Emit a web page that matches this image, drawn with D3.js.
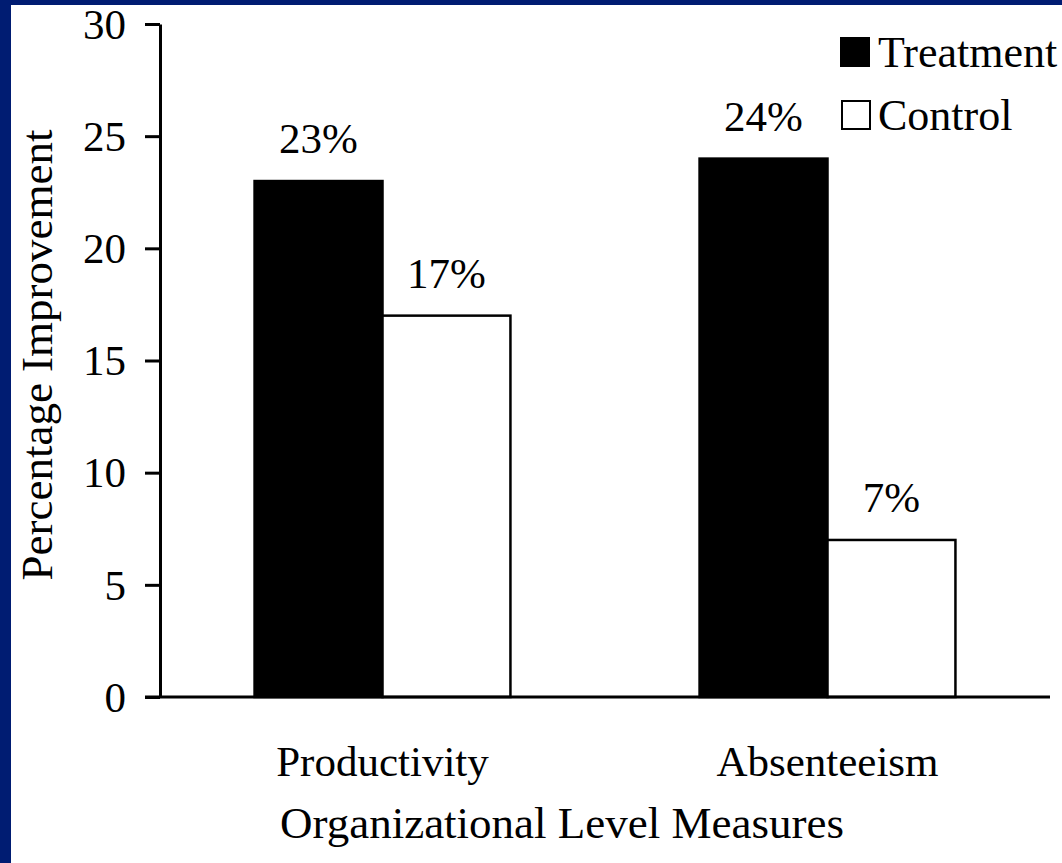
<!DOCTYPE html>
<html>
<head>
<meta charset="utf-8">
<script src="https://cdn.jsdelivr.net/npm/d3@7"></script>
<style>
  html, body { margin: 0; padding: 0; background: #ffffff; }
  svg { display: block; }
  text { font-family: "Liberation Serif", "Times New Roman", serif; fill: #000; }
</style>
</head>
<body>
<svg id="chart" width="1062" height="863"></svg>
<script>
// Chart data
const categories = ["Productivity", "Absenteeism"];
const seriesNames = ["Treatment", "Control"];
const treatment = [23, 24];
const control = [17, 7];
const yTicks = [0, 5, 10, 15, 20, 25, 30];
const yTitle = "Percentage Improvement";
const xTitle = "Organizational Level Measures";

const seriesFill = { Treatment: "#000000", Control: "#ffffff" };

const W = 1062, H = 863;
const plot = { left: 160, right: 1050, top: 24, bottom: 697 };

const svg = d3.select("#chart");

// Navy frame along the top and left edges
svg.append("rect").attr("x", 0).attr("y", 0).attr("width", W).attr("height", 5).attr("fill", "#001c72");
svg.append("rect").attr("x", 0).attr("y", 0).attr("width", 11).attr("height", H).attr("fill", "#001c72");

const rows = categories.map((c, i) => ({
  category: c,
  values: [
    { series: "Treatment", value: treatment[i] },
    { series: "Control", value: control[i] }
  ]
}));

const y = d3.scaleLinear().domain([0, 30]).range([plot.bottom, plot.top]);

const x0 = d3.scaleBand()
  .domain(categories)
  .range([plot.left, plot.right])
  .paddingInner(0.425)
  .paddingOuter(0.2125);

const x1 = d3.scaleBand()
  .domain(seriesNames)
  .range([0, x0.bandwidth()])
  .padding(0);

// Bars
const groups = svg.append("g").selectAll("g")
  .data(rows)
  .join("g")
  .attr("transform", d => `translate(${x0(d.category)},0)`);

groups.selectAll("rect")
  .data(d => d.values)
  .join("rect")
  .attr("x", d => x1(d.series))
  .attr("y", d => y(d.value))
  .attr("width", x1.bandwidth())
  .attr("height", d => y(0) - y(d.value))
  .attr("fill", d => seriesFill[d.series])
  .attr("stroke", "#000")
  .attr("stroke-width", 2.5);

// Value labels
groups.selectAll("text.val")
  .data(d => d.values)
  .join("text")
  .attr("class", "val")
  .attr("x", d => x1(d.series) + x1.bandwidth() / 2)
  .attr("y", d => y(d.value) - 28)
  .attr("text-anchor", "middle")
  .style("font-size", "43px")
  .text(d => d.value + "%");

// Y axis
const yAxis = d3.axisLeft(y)
  .tickValues(yTicks)
  .tickSize(15)
  .tickSizeOuter(0)
  .tickPadding(19)
  .tickFormat(d3.format("d"));

const gy = svg.append("g")
  .attr("transform", `translate(${plot.left},0)`)
  .call(yAxis);
gy.select(".domain").attr("stroke", "#000").attr("stroke-width", 3);
gy.selectAll(".tick line").attr("stroke", "#000").attr("stroke-width", 3);
gy.selectAll(".tick text")
  .style("font-family", '"Liberation Serif", "Times New Roman", serif')
  .style("font-size", "43px")
  .attr("fill", "#000")
  .attr("dy", "0.33em");

// X baseline
svg.append("line")
  .attr("x1", plot.left - 15)
  .attr("x2", plot.right)
  .attr("y1", y(0))
  .attr("y2", y(0))
  .attr("stroke", "#000")
  .attr("stroke-width", 3);

// Category labels
svg.append("g").selectAll("text")
  .data(categories)
  .join("text")
  .attr("x", d => x0(d) + x0.bandwidth() / 2)
  .attr("y", 776)
  .attr("text-anchor", "middle")
  .style("font-size", "43px")
  .text(d => d);

// Axis titles
svg.append("text")
  .attr("x", (plot.left + plot.right) / 2 - 43)
  .attr("y", 838)
  .attr("text-anchor", "middle")
  .style("font-size", "45px")
  .text(xTitle);

svg.append("text")
  .attr("transform", "translate(52,355) rotate(-90)")
  .attr("text-anchor", "middle")
  .style("font-size", "45px")
  .text(yTitle);

// Legend
const legend = svg.append("g");
const legendRows = [
  { name: "Treatment", sq: { x: 841, y: 38 }, ty: 67 },
  { name: "Control", sq: { x: 842, y: 101 }, ty: 130 }
];
legendRows.forEach(r => {
  legend.append("rect")
    .attr("x", r.sq.x).attr("y", r.sq.y)
    .attr("width", 28).attr("height", 28)
    .attr("fill", seriesFill[r.name])
    .attr("stroke", "#000")
    .attr("stroke-width", 2);
  legend.append("text")
    .attr("x", 878).attr("y", r.ty)
    .style("font-size", "44px")
    .text(r.name);
});
</script>
</body>
</html>
